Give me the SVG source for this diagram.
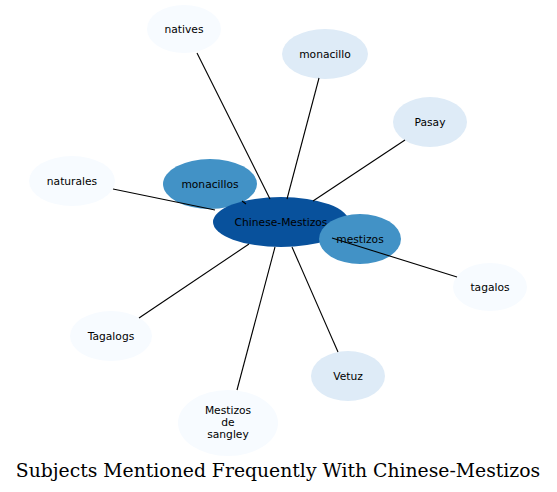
<svg xmlns="http://www.w3.org/2000/svg" width="557" height="492" viewBox="0 0 557 492">
<style>
.n text{font-family:"DejaVu Sans",sans-serif;font-size:10.7px;fill:#000;text-anchor:middle;dominant-baseline:central}
.e line{stroke:#000;stroke-width:1.1}
.title{font-family:"DejaVu Serif",serif;font-size:18.8px;text-anchor:middle}
</style>
<rect width="557" height="492" fill="#fff"/>
<g id="node-natives" class="n"><ellipse cx="184" cy="29" rx="37" ry="24" fill="#f7fbff"/><text x="184" y="29">natives</text></g>
<g id="node-monacillo" class="n"><ellipse cx="325" cy="54" rx="43" ry="25" fill="#deebf7"/><text x="325" y="54">monacillo</text></g>
<g id="node-Pasay" class="n"><ellipse cx="430" cy="122" rx="37" ry="25" fill="#deebf7"/><text x="430" y="122">Pasay</text></g>
<g id="node-naturales" class="n"><ellipse cx="72" cy="181" rx="43" ry="25" fill="#f7fbff"/><text x="72" y="181">naturales</text></g>
<g id="node-tagalos" class="n"><ellipse cx="490" cy="287" rx="37" ry="24" fill="#f7fbff"/><text x="490" y="287">tagalos</text></g>
<g id="node-Tagalogs" class="n"><ellipse cx="111" cy="336" rx="41" ry="25" fill="#f7fbff"/><text x="111" y="336">Tagalogs</text></g>
<g id="node-Vetuz" class="n"><ellipse cx="348" cy="376" rx="37" ry="25" fill="#deebf7"/><text x="348" y="376">Vetuz</text></g>
<g id="node-sangley" class="n"><ellipse cx="228" cy="423" rx="50" ry="33" fill="#f7fbff"/><text x="228" y="410.5">Mestizos</text><text x="228" y="422.5">de</text><text x="228" y="434.5">sangley</text></g>
<g id="node-monacillos" class="n"><ellipse cx="210" cy="184" rx="47" ry="25" fill="#4292c6"/><text x="210" y="184">monacillos</text></g>
<g id="node-center" class="n"><ellipse cx="281" cy="222" rx="68" ry="25" fill="#08519c"/><text x="281" y="222">Chinese-Mestizos</text></g>
<g id="node-mestizos" class="n"><ellipse cx="360" cy="239" rx="41" ry="25" fill="#4292c6"/><text x="360" y="239">mestizos</text></g>
<g id="edges" class="e">
<line x1="197" y1="53" x2="270" y2="199"/>
<line x1="319" y1="78" x2="287" y2="199"/>
<line x1="405" y1="140" x2="313" y2="201"/>
<line x1="113" y1="189" x2="215" y2="210"/>
<line x1="242" y1="201" x2="246" y2="204"/>
<line x1="457" y1="277" x2="332" y2="238"/>
<line x1="139" y1="318" x2="249" y2="244"/>
<line x1="237" y1="390" x2="275" y2="247"/>
<line x1="338" y1="352" x2="292" y2="247"/>
</g>
<text class="title" x="278" y="477">Subjects Mentioned Frequently With Chinese-Mestizos</text>
</svg>
